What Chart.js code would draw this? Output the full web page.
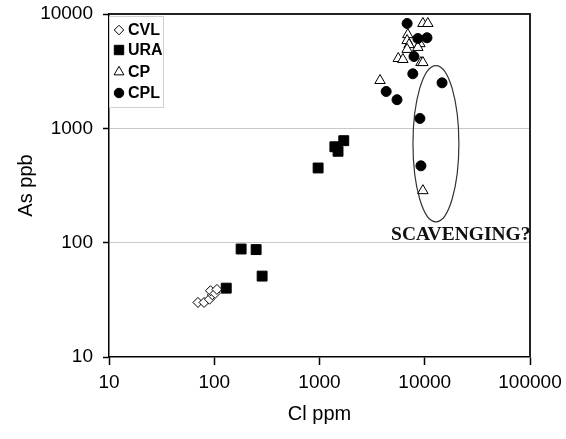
<!DOCTYPE html>
<html>
<head>
<meta charset="utf-8">
<script src="https://cdn.jsdelivr.net/npm/chart.js@4.4.1/dist/chart.umd.min.js"></script>
<style>
  html, body { margin: 0; padding: 0; background: #fff; }
  #wrap { width: 566px; height: 439px; position: relative; }
</style>
</head>
<body>
<div id="wrap"><canvas id="c" width="566" height="439"></canvas></div>
<script>
// ---- Data (Cl ppm, As ppb) ----
const seriesNames = ['CVL', 'URA', 'CP', 'CPL'];
const cvl = [[70, 30], [80, 30], [90, 32], [96, 35], [92, 38], [102, 36], [106, 39]];
const ura = [[130, 40], [180, 88], [250, 87], [285, 51], [970, 450], [1400, 690], [1500, 630], [1700, 780]];
const cp  = [[9600, 8260], [10700, 8260], [6900, 6600], [6800, 5860], [7100, 5400], [9000, 5500],
             [6800, 4900], [8600, 5100], [5600, 4080], [6200, 4000], [9200, 3760], [9600, 3760],
             [3760, 2620], [9600, 285]];
const cpl = [[6800, 8260], [8600, 6100], [10500, 6200], [7900, 4250], [7700, 3000], [14600, 2500],
             [4300, 2100], [5450, 1780], [9000, 1220], [9200, 470]];
const xTickValues = [10, 100, 1000, 10000, 100000];
const yTickValues = [10, 100, 1000, 10000];
const xTitle = 'Cl ppm';
const yTitle = 'As ppb';
// annotation: ellipse bounds (data units) and label
const ellipseX = [7730, 21100];
const ellipseY = [152, 3540];
const noteText = 'SCAVENGING?';
const notePos = [22000, 106];

const toPts = arr => arr.map(p => ({ x: p[0], y: p[1] }));

const styles = [
  { pointStyle: 'rectRot', radius: 5, bg: '#ffffff', border: '#000000', bw: 1 },
  { pointStyle: 'rect', radius: 7, bg: '#000000', border: '#000000', bw: 1 },
  { pointStyle: 'triangle', radius: 6, bg: '#ffffff', border: '#000000', bw: 1 },
  { pointStyle: 'circle', radius: 5, bg: '#000000', border: '#000000', bw: 1 }
];
const dataSets = [cvl, ura, cp, cpl];

const datasets = dataSets.map((d, i) => ({
  label: seriesNames[i],
  data: toPts(d),
  pointStyle: styles[i].pointStyle,
  pointRadius: styles[i].radius,
  pointHoverRadius: styles[i].radius,
  backgroundColor: styles[i].bg,
  borderColor: styles[i].border,
  borderWidth: styles[i].bw,
  showLine: false,
  order: 3 - i
}));

const framePlugin = {
  id: 'frame',
  beforeDatasetsDraw(chart) {
    const { ctx, chartArea: a, scales } = chart;
    ctx.save();
    ctx.strokeStyle = '#222';
    ctx.lineWidth = 2;
    ctx.beginPath();
    ctx.moveTo(a.left, a.top);
    ctx.lineTo(a.right, a.top);
    ctx.lineTo(a.right, a.bottom);
    ctx.stroke();
    const x0 = scales.x.getPixelForValue(ellipseX[0]);
    const x1 = scales.x.getPixelForValue(ellipseX[1]);
    const y0 = scales.y.getPixelForValue(ellipseY[1]);
    const y1 = scales.y.getPixelForValue(ellipseY[0]);
    ctx.strokeStyle = '#333';
    ctx.lineWidth = 1.2;
    ctx.beginPath();
    ctx.ellipse((x0 + x1) / 2, (y0 + y1) / 2, (x1 - x0) / 2, (y1 - y0) / 2, 0, 0, Math.PI * 2);
    ctx.stroke();
    ctx.fillStyle = '#111';
    ctx.font = 'bold 19.5px "Liberation Serif", "Times New Roman", serif';
    ctx.textAlign = 'center';
    ctx.textBaseline = 'alphabetic';
    ctx.fillText(noteText, scales.x.getPixelForValue(notePos[0]), scales.y.getPixelForValue(notePos[1]));
    ctx.restore();
  },
  afterDatasetsDraw(chart) {
    const { ctx, chartArea: a } = chart;
    ctx.save();
    const bx = a.left, by = a.top + 2, bw = 54, bh = 91;
    ctx.fillStyle = '#fff';
    ctx.fillRect(bx, by, bw, bh);
    ctx.strokeStyle = '#d0d0d0';
    ctx.lineWidth = 1;
    ctx.strokeRect(bx + 0.5, by + 0.5, bw, bh);
    ctx.font = 'bold 16px "Liberation Sans Narrow", "Arial Narrow", "Liberation Sans", sans-serif';
    ctx.textAlign = 'left';
    ctx.textBaseline = 'middle';
    const rows = [16, 36, 58, 79];
    seriesNames.forEach((name, i) => {
      const y = a.top + rows[i];
      const st = styles[i];
      ctx.fillStyle = st.bg;
      ctx.strokeStyle = st.border;
      ctx.lineWidth = st.bw;
      Chart.helpers.drawPoint(ctx, { pointStyle: st.pointStyle, radius: st.radius * 0.95, borderWidth: st.bw, rotation: 0 }, bx + 10, y);
      ctx.fillStyle = '#000';
      ctx.fillText(name, bx + 19, y + 1);
    });
    ctx.restore();
  }
};

new Chart(document.getElementById('c'), {
  type: 'scatter',
  data: { datasets },
  options: {
    responsive: false,
    animation: false,
    events: [],
    layout: { padding: { left: 0, right: 36, top: 14, bottom: 0 } },
    plugins: { legend: { display: false }, tooltip: { enabled: false } },
    scales: {
      x: {
        type: 'logarithmic',
        position: 'bottom',
        min: 10, max: 100000,
        afterBuildTicks: s => { s.ticks = xTickValues.map(v => ({ value: v })); },
        afterFit: s => { s.height = 82; s.paddingLeft = 0; s.paddingRight = 0; },
        ticks: {
          callback: v => String(v),
          autoSkip: false, maxRotation: 0,
          color: '#000', padding: 6,
          font: { size: 19, family: '"Liberation Sans", Arial, sans-serif' }
        },
        grid: { drawOnChartArea: false, tickLength: 8, tickColor: '#000', tickWidth: 1.5 },
        border: { color: '#000', width: 1.5 },
        title: {
          display: true, text: xTitle, color: '#000',
          font: { size: 20, family: '"Liberation Sans", Arial, sans-serif' },
          padding: { top: 0, bottom: 13 }
        }
      },
      y: {
        type: 'logarithmic',
        position: 'left',
        min: 10, max: 10000,
        afterBuildTicks: s => { s.ticks = yTickValues.map(v => ({ value: v })); },
        afterFit: s => { s.width = 109; s.paddingTop = 0; s.paddingBottom = 0; },
        ticks: {
          callback: v => String(v),
          autoSkip: false,
          color: '#000', padding: 10,
          font: { size: 19, family: '"Liberation Sans", Arial, sans-serif' }
        },
        grid: {
          color: c => (c.tick && (c.tick.value === 100 || c.tick.value === 1000)) ? '#c8c8c8' : 'rgba(0,0,0,0)',
          lineWidth: 1,
          tickLength: 6, tickColor: '#000', tickWidth: 1.5
        },
        border: { color: '#000', width: 1.5 },
        title: {
          display: true, text: yTitle, color: '#000',
          font: { size: 20, family: '"Liberation Sans", Arial, sans-serif' },
          padding: { top: 14, bottom: 0 }
        }
      }
    }
  },
  plugins: [framePlugin]
});
</script>
</body>
</html>
